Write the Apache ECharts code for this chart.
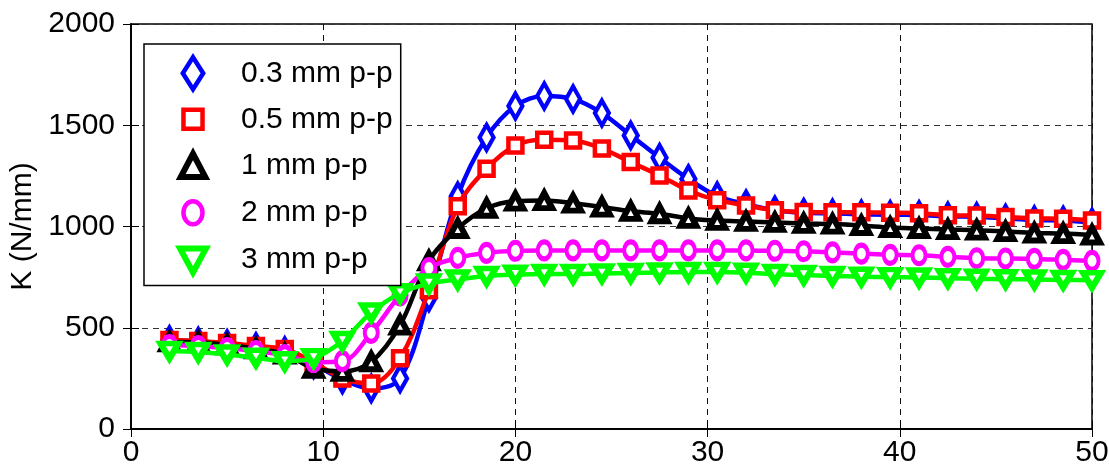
<!DOCTYPE html>
<html>
<head>
<meta charset="utf-8">
<script src="https://cdn.jsdelivr.net/npm/echarts@6/dist/echarts.min.js"></script>
<style>
  html, body { margin: 0; padding: 0; background: #fff; }
  #chart { width: 1109px; height: 475px; }
</style>
</head>
<body>
<div id="chart"></div>
<script>
// Stiffness K versus position, for five excitation amplitudes
const xValues = [2, 3.5, 5, 6.5, 8, 9.5, 11, 12.5, 14, 15.5, 17, 18.5, 20, 21.5, 23, 24.5, 26,
  27.5, 29, 30.5, 32, 33.5, 35, 36.5, 38, 39.5, 41, 42.5, 44, 45.5, 47, 48.5, 50];

const k03 = [440, 432, 420, 405, 385, 320, 245, 200, 250, 650, 1150, 1440, 1595, 1645, 1630, 1560, 1450,
  1340, 1235, 1150, 1110, 1080, 1068, 1065, 1060, 1058, 1057, 1050, 1048, 1040, 1032, 1030, 1020];
const k05 = [440, 435, 425, 410, 395, 330, 250, 225, 350, 685, 1100, 1285, 1400, 1428, 1425, 1385, 1318,
  1252, 1178, 1130, 1104, 1080, 1071, 1070, 1070, 1068, 1066, 1056, 1054, 1047, 1040, 1038, 1030];
const k1 = [430, 428, 415, 396, 370, 300, 285, 332, 513, 830, 990, 1090, 1125, 1128, 1115, 1096, 1075,
  1063, 1040, 1030, 1025, 1020, 1015, 1012, 1005, 995, 990, 985, 982, 975, 968, 965, 958];
const k2 = [415, 410, 400, 385, 365, 330, 335, 475, 660, 795, 845, 870, 880, 882, 882, 882, 882,
  882, 882, 882, 882, 880, 878, 872, 866, 860, 858, 850, 843, 842, 840, 835, 830];
const k3 = [385, 380, 368, 352, 335, 350, 435, 575, 670, 718, 738, 755, 762, 765, 765, 768, 770,
  773, 775, 775, 772, 765, 760, 756, 752, 750, 748, 745, 742, 740, 738, 736, 735];

const seriesNames = ['0.3 mm p-p', '0.5 mm p-p', '1 mm p-p', '2 mm p-p', '3 mm p-p'];
const xTicks = [0, 10, 20, 30, 40, 50];
const yTicks = [0, 500, 1000, 1500, 2000];

const FONT = '"Liberation Sans", Arial, Helvetica, sans-serif';
const FONT_SIZE = 30;

// marker shapes: a 0..100 frame is kept so legend icons keep their relative sizes
const icons = [
  'path://M0,0M100,100M50,3L80,50L50,97L20,50Z',
  'path://M0,0M100,100M22,22L78,22L78,78L22,78Z',
  'path://M0,0M100,100M50,14L86,82L14,82Z',
  'path://M0,0M100,100M50,16A28,34,0,1,1,49.9,16Z',
  'path://M0,0M100,100M12,18L88,18L50,88Z'
];

const styles = [
  { color: '#0000ff', symbol: 'diamond', size: [14, 25], border: 4.5 },
  { color: '#ff0000', symbol: 'rect', size: [14, 14], border: 4.5 },
  { color: '#000000', symbol: 'triangle', size: [16, 15], border: 6 },
  { color: '#ff00ff', symbol: 'circle', size: [13, 17], border: 4.5 },
  { color: '#00ff00', symbol: 'triangle', size: [18, 15], border: 6, rotate: 180 }
];

const allData = [k03, k05, k1, k2, k3];

const series = allData.map((vals, i) => ({
  name: seriesNames[i],
  type: 'line',
  xAxisIndex: 0,
  yAxisIndex: 0,
  data: xValues.map((x, j) => [x, vals[j]]),
  smooth: 0.35,
  symbol: styles[i].symbol,
  symbolSize: styles[i].size,
  symbolRotate: styles[i].rotate || 0,
  showAllSymbol: true,
  lineStyle: { color: styles[i].color, width: 4.5 },
  itemStyle: {
    color: '#ffffff', borderColor: styles[i].color, borderWidth: styles[i].border,
    borderJoin: 'miter'
  },
  emphasis: { disabled: true },
  z: 2 + i
}));

const chart = echarts.init(document.getElementById('chart'), null, { renderer: 'canvas' });

chart.setOption({
  animation: false,
  backgroundColor: '#ffffff',
  grid: {
    left: 131, right: 17, top: 24, bottom: 46,
    outerBoundsMode: 'none',
    containLabel: false,
    show: true, borderColor: '#000', borderWidth: 1.5, backgroundColor: 'transparent'
  },
  legend: {
    left: 144, top: 44,
    orient: 'vertical',
    padding: [10, 8, 6, 29],
    itemGap: 7.5,
    itemWidth: 86,
    itemHeight: 34,
    lineStyle: { opacity: 0 },
    symbolKeepAspect: true,
    borderColor: '#000',
    borderWidth: 1.5,
    backgroundColor: '#ffffff',
    textStyle: { fontSize: FONT_SIZE, lineHeight: 34, color: '#000', fontFamily: FONT },
    data: seriesNames.map((n, i) => ({
      name: n,
      icon: icons[i],
      itemStyle: { borderWidth: styles[i].border, borderJoin: 'miter' }
    })),
    selectedMode: false,
    z: 20
  },
  xAxis: [{
    type: 'value',
    min: xTicks[0], max: xTicks[xTicks.length - 1], interval: 10,
    axisLine: { show: true, onZero: false, lineStyle: { color: '#000', width: 1.5 } },
    axisTick: { show: true, inside: true, length: 8, lineStyle: { color: '#000' } },
    axisLabel: {
      fontSize: FONT_SIZE, color: '#000', fontFamily: FONT, margin: 9,
      formatter: v => xTicks.includes(v) ? String(v) : ''
    },
    splitLine: { show: true, lineStyle: { color: '#111', type: [6, 5], width: 1 } }
  }, {
    type: 'value', position: 'top',
    min: xTicks[0], max: xTicks[xTicks.length - 1], interval: 10,
    axisLine: { show: true, lineStyle: { color: '#000', width: 1.5 } },
    axisTick: { show: true, inside: true, length: 8, lineStyle: { color: '#000' } },
    axisLabel: { show: false },
    splitLine: { show: false }
  }],
  yAxis: [{
    type: 'value',
    min: yTicks[0], max: yTicks[yTicks.length - 1], interval: 500,
    name: 'K (N/mm)',
    nameLocation: 'middle',
    nameGap: 82,
    nameTextStyle: { fontSize: FONT_SIZE, color: '#000', fontFamily: FONT },
    axisLine: { show: true, onZero: false, lineStyle: { color: '#000', width: 1.5 } },
    axisTick: { show: true, inside: true, length: 8, lineStyle: { color: '#000' } },
    axisLabel: {
      fontSize: FONT_SIZE, color: '#000', fontFamily: FONT, margin: 16,
      formatter: v => yTicks.includes(v) ? String(v) : ''
    },
    splitLine: { show: true, lineStyle: { color: '#333', type: [6, 5], width: 1 } }
  }, {
    type: 'value', position: 'right',
    min: yTicks[0], max: yTicks[yTicks.length - 1], interval: 500,
    axisLine: { show: true, lineStyle: { color: '#000', width: 1.5 } },
    axisTick: { show: true, inside: true, length: 8, lineStyle: { color: '#000' } },
    axisLabel: { show: false },
    splitLine: { show: false }
  }],
  series: series
});
</script>
</body>
</html>
